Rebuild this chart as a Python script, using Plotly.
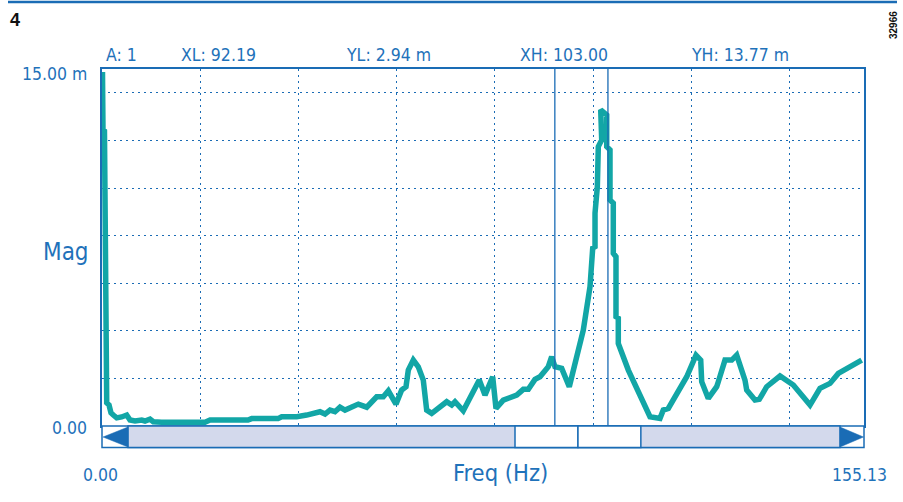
import plotly.graph_objects as go

# ---- data ----
freq_hz = [0.1, 0.2, 0.5, 0.7, 0.96, 1.43, 1.83, 2.3, 3.0, 4.0, 5.03, 5.7, 6.72, 8.08, 8.75, 9.77,
           10.44, 12.15, 20.97, 21.99, 29.72, 30.48, 35.83, 36.58, 39.64, 41.67, 44.38, 45.4,
           46.42, 47.43, 48.45, 49.47, 52.18, 53.89, 55.92, 57.27, 58.29, 59.85, 61.01, 61.89,
           62.36, 63.38, 64.39, 65.41, 66.1, 67.12, 70.17, 71.19, 71.86, 73.55, 76.81, 77.97,
           79.54, 80.21, 81.7, 84.43, 85.77, 86.79, 88.15, 89.17, 90.86, 91.55, 92.22, 93.59,
           95.13, 97.98, 98.68, 99.35, 99.9, 100.37, 100.37, 100.84, 101.04, 101.73, 101.53,
           102.75, 102.75, 103.42, 103.42, 104.09, 104.09, 104.64, 104.64, 105.11, 105.11,
           106.82, 107.15, 111.56, 113.6, 114.27, 115.29, 119.04, 120.93, 121.89, 122.09,
           123.43, 125.14, 125.47, 126.83, 128.2, 129.21, 130.9, 131.25, 132.94, 133.81,
           135.32, 136.66, 138.03, 140.74, 144.14, 146.17, 148.21, 149.9, 152.28, 154.66]
mag_m = [14.87, 12.47, 12.4, 1.09, 0.97, 0.88, 0.55, 0.46, 0.34, 0.38, 0.46, 0.25, 0.21, 0.25,
         0.21, 0.29, 0.18, 0.16, 0.16, 0.25, 0.25, 0.31, 0.31, 0.39, 0.39, 0.46, 0.6, 0.5, 0.67,
         0.6, 0.79, 0.67, 0.92, 0.79, 1.23, 1.23, 1.48, 0.92, 1.51, 1.65, 2.35, 2.77, 2.49, 1.93,
         0.67, 0.53, 1.02, 0.88, 1.02, 0.64, 1.93, 1.3, 2.07, 0.74, 1.09, 1.3, 1.54, 1.54, 1.96,
         2.07, 2.49, 2.91, 2.49, 2.42, 1.65, 4.03, 5.01, 5.85, 7.47, 7.53, 8.94, 10.05, 11.74,
         12.02, 13.28, 13.07, 11.74, 11.6, 9.5, 9.36, 7.26, 7.11, 4.59, 4.53, 3.47, 2.63, 2.35,
         0.39, 0.32, 0.67, 0.74, 2.07, 2.98, 2.77, 1.86, 1.16, 1.65, 1.86, 2.77, 2.77, 2.98,
         1.93, 1.51, 1.09, 1.12, 1.65, 1.86, 2.1, 1.72, 0.88, 1.58, 1.79, 2.21, 2.49, 2.77]

x_range = [0.0, 155.13]
y_range = [0.0, 15.0]
x_grid = [20, 40, 60, 80, 100, 120, 140]
y_grid = [2, 4, 6, 8, 10, 12, 14]
cursor_x = [92.19, 103.00]
header_labels = ["A: 1", "XL: 92.19", "YL: 2.94 m", "XH: 103.00", "YH: 13.77 m"]
header_px = [121, 218, 388, 564, 740]
scroll_window = [84.08, 96.9, 109.7]

# ---- layout helpers ----
W, H = 903, 502
L, R, T, B = 102, 864, 69, 426
def px(xp):
    return (xp - L) / (R - L)
def py(yp):
    return (B - yp) / (B - T)

BLUE = "#1a6cb5"
TEXT = "#1f72ba"
TEAL = "#12a6a6"
LAV = "#d3d9ec"
FONT = "Liberation Sans Narrow, DejaVu Sans Condensed, sans-serif"
SMALL = 17.5

fig = go.Figure()
fig.add_trace(go.Scatter(x=freq_hz, y=mag_m, mode="lines",
                         line=dict(color=TEAL, width=5.5, shape="linear"),
                         hoverinfo="skip", showlegend=False, cliponaxis=True))

dot = "1.5px,4.5px"
fig.update_xaxes(range=x_range, showgrid=False, zeroline=False, showticklabels=False,
                 ticks="", showline=True, mirror=True, linecolor=BLUE, linewidth=1.5,
                 minor=dict(tickvals=x_grid, showgrid=True, gridcolor=BLUE, gridwidth=1,
                            griddash=dot, ticks=""))
fig.update_yaxes(range=y_range, showgrid=False, zeroline=False, showticklabels=False,
                 ticks="", showline=True, mirror=True, linecolor=BLUE, linewidth=1.5,
                 minor=dict(tickvals=y_grid, showgrid=True, gridcolor=BLUE, gridwidth=1,
                            griddash=dot, ticks=""))

shapes = []
# cursor lines
for cx in cursor_x:
    shapes.append(dict(type="line", xref="x", yref="paper", x0=cx, x1=cx, y0=0, y1=1,
                       line=dict(color=BLUE, width=1.3)))
# scrollbar
sb0, sb1 = py(447.5), py(426)
shapes.append(dict(type="rect", xref="paper", yref="paper", x0=0, x1=1, y0=sb0, y1=sb1,
                   fillcolor="white", line=dict(color=BLUE, width=1.5), layer="above"))
shapes.append(dict(type="rect", xref="paper", yref="paper", x0=px(128), x1=px(840),
                   y0=sb0, y1=sb1, fillcolor=LAV, line=dict(color=BLUE, width=1.5), layer="above"))
shapes.append(dict(type="rect", xref="x", yref="paper", x0=scroll_window[0], x1=scroll_window[1],
                   y0=sb0, y1=sb1, fillcolor="white", line=dict(color=BLUE, width=1.5), layer="above"))
shapes.append(dict(type="rect", xref="x", yref="paper", x0=scroll_window[1], x1=scroll_window[2],
                   y0=sb0, y1=sb1, fillcolor="white", line=dict(color=BLUE, width=1.5), layer="above"))
# arrows
shapes.append(dict(type="path", xref="paper", yref="paper",
                   path=f"M {px(103)} {py(437)} L {px(128)} {py(427)} L {px(128)} {py(447)} Z",
                   fillcolor=BLUE, line=dict(color=BLUE, width=0.5), layer="above"))
shapes.append(dict(type="path", xref="paper", yref="paper",
                   path=f"M {px(863.5)} {py(437)} L {px(840)} {py(427)} L {px(840)} {py(447)} Z",
                   fillcolor=BLUE, line=dict(color=BLUE, width=0.5), layer="above"))
# top rule
shapes.append(dict(type="line", xref="paper", yref="paper", x0=px(8), x1=px(897),
                   y0=py(2), y1=py(2), line=dict(color=BLUE, width=2.5)))

ann = []
for txt, xp in zip(header_labels, header_px):
    ann.append(dict(text=txt, xref="paper", yref="paper", x=px(xp), y=py(55.5),
                    xanchor="center", yanchor="middle", showarrow=False,
                    font=dict(family=FONT, size=SMALL, color=TEXT)))
ann.append(dict(text="15.00 m", xref="paper", yref="paper", x=px(88.5), y=py(74),
                xanchor="right", yanchor="middle", showarrow=False,
                font=dict(family=FONT, size=SMALL, color=TEXT)))
ann.append(dict(text="0.00", xref="paper", yref="paper", x=px(88.5), y=py(428),
                xanchor="right", yanchor="middle", showarrow=False,
                font=dict(family=FONT, size=SMALL, color=TEXT)))
ann.append(dict(text="Mag", xref="paper", yref="paper", x=px(66), y=py(252),
                xanchor="center", yanchor="middle", showarrow=False,
                font=dict(family=FONT, size=24, color=TEXT)))
ann.append(dict(text="0.00", xref="paper", yref="paper", x=px(100.5), y=py(475),
                xanchor="center", yanchor="middle", showarrow=False,
                font=dict(family=FONT, size=SMALL, color=TEXT)))
ann.append(dict(text="155.13", xref="paper", yref="paper", x=px(859.5), y=py(475),
                xanchor="center", yanchor="middle", showarrow=False,
                font=dict(family=FONT, size=SMALL, color=TEXT)))
ann.append(dict(text="Freq (Hz)", xref="paper", yref="paper", x=px(501), y=py(473),
                xanchor="center", yanchor="middle", showarrow=False,
                font=dict(family=FONT, size=23.5, color=TEXT)))
ann.append(dict(text="<b>4</b>", xref="paper", yref="paper", x=px(8), y=py(20),
                xanchor="left", yanchor="middle", showarrow=False,
                font=dict(family="Liberation Sans, Arial, sans-serif", size=18, color="#111111")))
ann.append(dict(text="<b>32966</b>", xref="paper", yref="paper", x=px(893), y=py(25),
                xanchor="center", yanchor="middle", showarrow=False, textangle=-90,
                font=dict(family="Liberation Sans, Arial, sans-serif", size=10, color="#111111")))

fig.update_layout(width=W, height=H, margin=dict(l=L, r=W - R, t=T, b=H - B, pad=0),
                  paper_bgcolor="white", plot_bgcolor="white",
                  shapes=shapes, annotations=ann, showlegend=False)

fig.write_html("out.html", include_plotlyjs=True, full_html=True,
               config={"displayModeBar": False})
